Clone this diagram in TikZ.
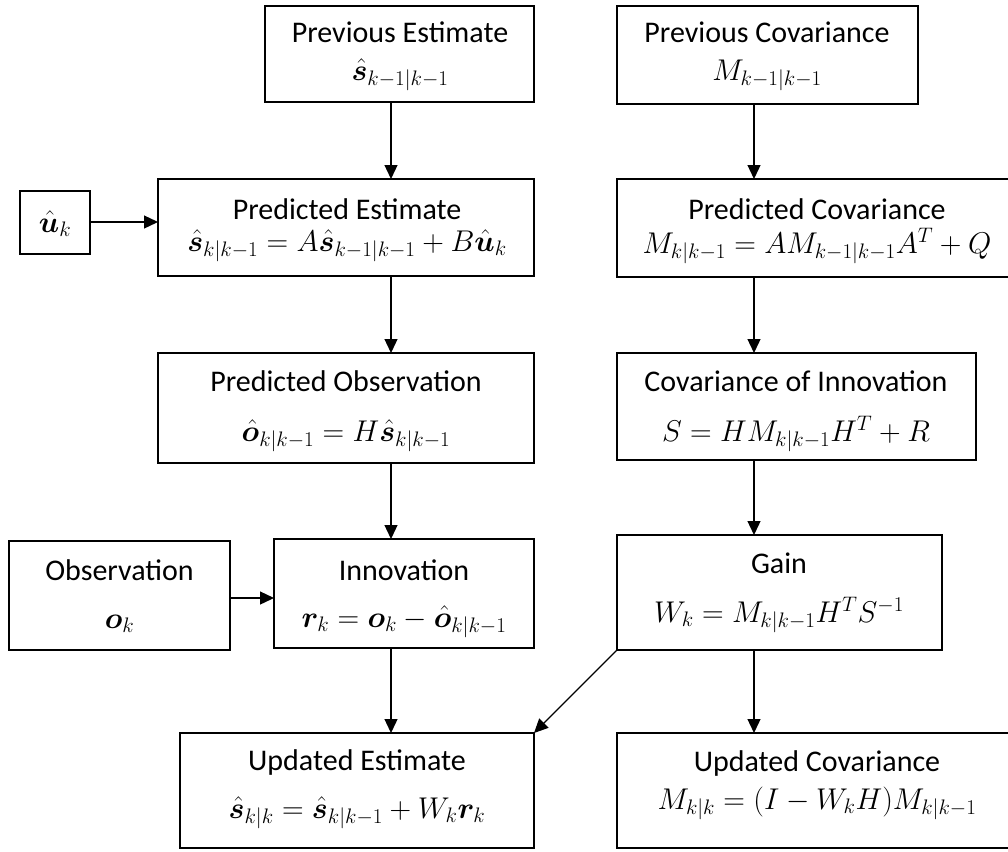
\RequirePackage{fix-cm}
\documentclass[tikz,border=0pt]{standalone}
\usepackage{amsmath,bm}
\usepackage{fontspec}
\setmainfont{Carlito}
\usetikzlibrary{arrows.meta}
\tikzset{
  kbox/.style={draw, line width=1.3pt, inner sep=0pt, outer sep=0pt},
  ktext/.style={anchor=base, inner sep=0pt, font=\fontsize{30}{32}\selectfont},
  arr/.style={line width=1.3pt, -{Triangle[length=14pt,width=13pt]}}
}
\begin{document}
\begin{tikzpicture}[x=1pt,y=-1pt]
\useasboundingbox (0,0) rectangle (1008,851);
\clip (0,0) rectangle (1008,851);
% boxes
\node[kbox, minimum width=269pt, minimum height=96pt] (pe) at (399.5,54) {};
\node[kbox, minimum width=301pt, minimum height=98pt] (pc) at (767.5,55) {};
\node[kbox, minimum width=70pt, minimum height=63pt] (u) at (55,222.5) {};
\node[kbox, minimum width=376pt, minimum height=97pt] (prede) at (346,227.5) {};
\node[kbox, minimum width=400pt, minimum height=98pt] (predc) at (817,228) {};
\node[kbox, minimum width=376pt, minimum height=110pt] (predo) at (346,408) {};
\node[kbox, minimum width=359pt, minimum height=107pt] (cov) at (796.5,406.5) {};
\node[kbox, minimum width=221pt, minimum height=109pt] (obs) at (119.5,595.5) {};
\node[kbox, minimum width=260pt, minimum height=109pt] (inn) at (404,593.5) {};
\node[kbox, minimum width=325pt, minimum height=115pt] (gain) at (779.5,592.5) {};
\node[kbox, minimum width=354pt, minimum height=115pt] (upde) at (357,790.5) {};
\node[kbox, minimum width=400pt, minimum height=115pt] (updc) at (817,790.5) {};
% texts
\node[ktext] (pe-t) at (400,43) {Previous Estimate};
\node[ktext] (pe-m) at (400,80) {$\bm{\hat{s}}_{k-1|k-1}$};
\node[ktext] (pc-t) at (767,43) {Previous Covariance};
\node[ktext] (pc-m) at (767,80) {$M_{k-1|k-1}$};
\node[ktext] (u-m) at (55,232) {$\bm{\hat{u}}_k$};
\node[ktext] (prede-t) at (347,219) {Predicted Estimate};
\node[ktext] (prede-m) at (347,251) {$\bm{\hat{s}}_{k|k-1}=A\bm{\hat{s}}_{k-1|k-1}+B\bm{\hat{u}}_k$};
\node[ktext] (predc-t) at (817,219) {Predicted Covariance};
\node[ktext] (predc-m) at (817,253) {$M_{k|k-1}=AM_{k-1|k-1}A^T+Q$};
\node[ktext] (predo-t) at (346,391) {Predicted Observation};
\node[ktext] (predo-m) at (346,441) {$\bm{\hat{o}}_{k|k-1}=H\bm{\hat{s}}_{k|k-1}$};
\node[ktext] (cov-t) at (796,391) {Covariance of Innovation};
\node[ktext] (cov-m) at (796,441) {$S=HM_{k|k-1}H^T+R$};
\node[ktext] (obs-t) at (119.5,580) {Observation};
\node[ktext] (obs-m) at (119.5,628) {$\bm{o}_k$};
\node[ktext] (inn-t) at (404,580) {Innovation};
\node[ktext] (inn-m) at (404,627) {$\bm{r}_k=\bm{o}_k-\bm{\hat{o}}_{k|k-1}$};
\node[ktext] (gain-t) at (779,573) {Gain};
\node[ktext] (gain-m) at (779,622) {$W_k=M_{k|k-1}H^TS^{-1}$};
\node[ktext] (upde-t) at (357,770) {Updated Estimate};
\node[ktext] (upde-m) at (357,818) {$\bm{\hat{s}}_{k|k}=\bm{\hat{s}}_{k|k-1}+W_k\bm{r}_k$};
\node[ktext] (updc-t) at (817,771) {Updated Covariance};
\node[ktext] (updc-m) at (817,809) {$M_{k|k}=(I-W_kH)M_{k|k-1}$};
% connector columns
\coordinate (cL) at (391,0);
\coordinate (cR) at (754,0);
\coordinate (rowU) at (0,222);
\coordinate (rowO) at (0,598);
% arrows
\draw[arr] (pe.south -| cL) -- (prede.north -| cL);
\draw[arr] (prede.south -| cL) -- (predo.north -| cL);
\draw[arr] (predo.south -| cL) -- (inn.north -| cL);
\draw[arr] (inn.south -| cL) -- (upde.north -| cL);
\draw[arr] (pc.south -| cR) -- (predc.north -| cR);
\draw[arr] (predc.south -| cR) -- (cov.north -| cR);
\draw[arr] (cov.south -| cR) -- (gain.north -| cR);
\draw[arr] (gain.south -| cR) -- (updc.north -| cR);
\draw[arr] (u.east |- rowU) -- (prede.west |- rowU);
\draw[arr] (obs.east |- rowO) -- (inn.west |- rowO);
\draw[arr] (gain.south west) -- (upde.north east);
\end{tikzpicture}
\end{document}
